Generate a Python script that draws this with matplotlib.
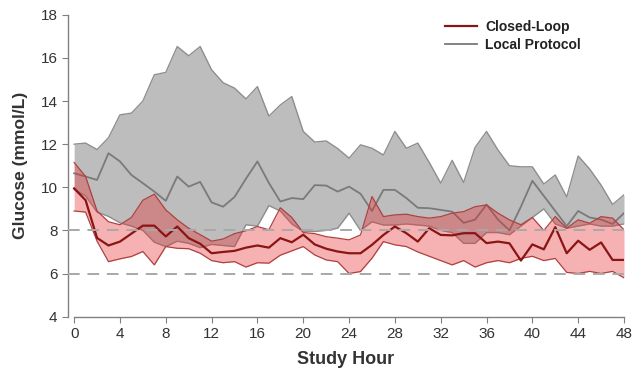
import matplotlib
matplotlib.use("Agg")
import matplotlib.pyplot as plt
import numpy as np

plt.rcParams['font.family'] = ['Liberation Sans', 'DejaVu Sans']

hours = list(range(49))

# Local protocol: upper quartile, median, lower quartile (mmol/L)
local_hi = [12.0, 12.05, 11.75, 12.3, 13.36, 13.44, 14.0, 15.22, 15.33, 16.53, 16.1, 16.53, 15.45,
            14.85, 14.6, 14.1, 14.67, 13.3, 13.82, 14.21, 12.59, 12.1, 12.15, 11.8, 11.35,
            11.97, 11.81, 11.5, 12.59, 11.81, 12.05, 11.15, 10.19, 11.25, 10.22, 11.85, 12.59,
            11.73, 11.0, 10.95, 10.95, 10.15, 10.57, 9.55, 11.45, 10.85, 10.1, 9.2, 9.65]
local_med = [10.65, 10.5, 10.34, 11.58, 11.2, 10.57, 10.19, 9.8, 9.37, 10.5, 10.03, 10.25, 9.3,
             9.1, 9.55, 10.4, 11.2, 10.2, 9.34, 9.5, 9.45, 10.1, 10.08, 9.8, 10.03,
             9.7, 8.9, 9.88, 9.88, 9.5, 9.05, 9.03, 8.95, 8.87, 8.35, 8.5, 9.2,
             8.5, 8.0, 9.1, 10.3, 9.6, 8.9, 8.2, 8.9, 8.6, 8.5, 8.3, 8.8]
local_lo = [9.9, 9.6, 8.85, 8.65, 8.35, 8.2, 8.0, 7.45, 7.25, 7.5, 7.4, 7.2, 7.35,
            7.3, 7.25, 8.26, 8.2, 9.15, 8.9, 8.3, 7.95, 7.95, 8.0, 8.1, 8.8,
            8.0, 8.4, 8.25, 8.25, 8.3, 8.25, 8.2, 8.0, 7.9, 7.4, 7.4, 7.9,
            7.9, 7.8, 8.2, 8.6, 9.0, 8.3, 8.1, 8.2, 8.3, 8.2, 8.2, 8.3]

# Closed-loop: upper quartile, median, lower quartile (mmol/L)
cl_hi = [11.15, 10.5, 8.9, 8.4, 8.26, 8.6, 9.4, 9.68, 8.95, 8.49, 8.1, 7.8, 7.5,
         7.6, 7.85, 7.98, 8.18, 8.03, 9.05, 8.6, 7.9, 7.85, 7.71, 7.64, 7.56,
         7.79, 9.57, 8.64, 8.72, 8.75, 8.64, 8.57, 8.64, 8.8, 8.87, 9.1, 9.18,
         8.8, 8.49, 8.26, 8.6, 8.0, 8.64, 8.1, 8.49, 8.33, 8.64, 8.57, 8.03]
cl_med = [9.95, 9.4, 7.65, 7.3, 7.48, 7.85, 8.22, 8.22, 7.72, 8.18, 7.64, 7.38, 6.94,
          7.0, 7.05, 7.2, 7.3, 7.2, 7.64, 7.45, 7.8, 7.35, 7.15, 7.02, 6.94,
          6.94, 7.33, 7.79, 8.18, 7.87, 7.48, 8.1, 7.79, 7.77, 7.87, 7.87, 7.41,
          7.48, 7.4, 6.6, 7.35, 7.12, 8.15, 6.94, 7.52, 7.1, 7.44, 6.63, 6.63]
cl_lo = [8.9, 8.85, 7.5, 6.55, 6.68, 6.79, 7.02, 6.4, 7.25, 7.17, 7.15, 6.94, 6.6,
         6.5, 6.55, 6.3, 6.5, 6.48, 6.85, 7.05, 7.25, 6.86, 6.63, 6.55, 6.0,
         6.09, 6.71, 7.48, 7.33, 7.25, 7.0, 6.8, 6.6, 6.4, 6.6, 6.3, 6.5,
         6.6, 6.5, 6.7, 6.8, 6.6, 6.7, 6.05, 6.0, 6.1, 6.0, 6.1, 5.8]

fig = plt.figure(figsize=(6.4, 3.81), dpi=100)
ax = fig.add_axes([0.106, 0.169, 0.869, 0.792])

# local protocol band
ax.fill_between(hours, local_lo, local_hi, color='#bdbdbd', lw=0, zorder=1)
ax.plot(hours, local_hi, color='#8e8e8e', lw=1.0, zorder=2)
ax.plot(hours, local_lo, color='#8e8e8e', lw=1.0, zorder=2)
ax.plot(hours, local_med, color='#7a7a7a', lw=1.3, zorder=2, label='Local Protocol')

# closed-loop band
ax.fill_between(hours, cl_lo, cl_hi, color='#e82a2a', alpha=0.36, lw=0, zorder=3)
ax.plot(hours, cl_hi, color='#b04040', lw=0.9, zorder=4)
ax.plot(hours, cl_lo, color='#b04040', lw=0.9, zorder=4)
ax.plot(hours, cl_med, color='#8b1414', lw=1.6, zorder=5, label='Closed-Loop')

for yv in (6, 8):
    ax.axhline(yv, color='#a8a8a8', lw=1.4, ls=(0, (6, 4)), zorder=6)

ax.set_xlim(-0.55, 48)
ax.set_ylim(4, 18)
ax.set_xticks(range(0, 49, 4))
ax.set_yticks(range(4, 19, 2))
for s in ('top', 'right'):
    ax.spines[s].set_visible(False)
for s in ('left', 'bottom'):
    ax.spines[s].set_color('#808080')
    ax.spines[s].set_linewidth(1.0)
ax.spines['bottom'].set_bounds(0, 48)
ax.tick_params(colors='#808080', labelcolor='#333333', labelsize=11, length=4, direction='out')

ax.set_xlabel('Study Hour', fontsize=13, fontweight='bold', color='#333333', labelpad=7)
ax.set_ylabel('Glucose (mmol/L)', fontsize=12.5, fontweight='bold', color='#333333', labelpad=9)

h, l = ax.get_legend_handles_labels()
leg = fig.legend(h[::-1], l[::-1], loc='upper left', bbox_to_anchor=(445 / 640, 1 - 20 / 381),
                 frameon=False, prop={'weight': 'bold', 'size': 10}, handlelength=2.3,
                 handletextpad=0.6, labelspacing=0.28, borderpad=0, borderaxespad=0)
for t in leg.get_texts():
    t.set_color('#222222')

fig.savefig('out.png', dpi=100)
